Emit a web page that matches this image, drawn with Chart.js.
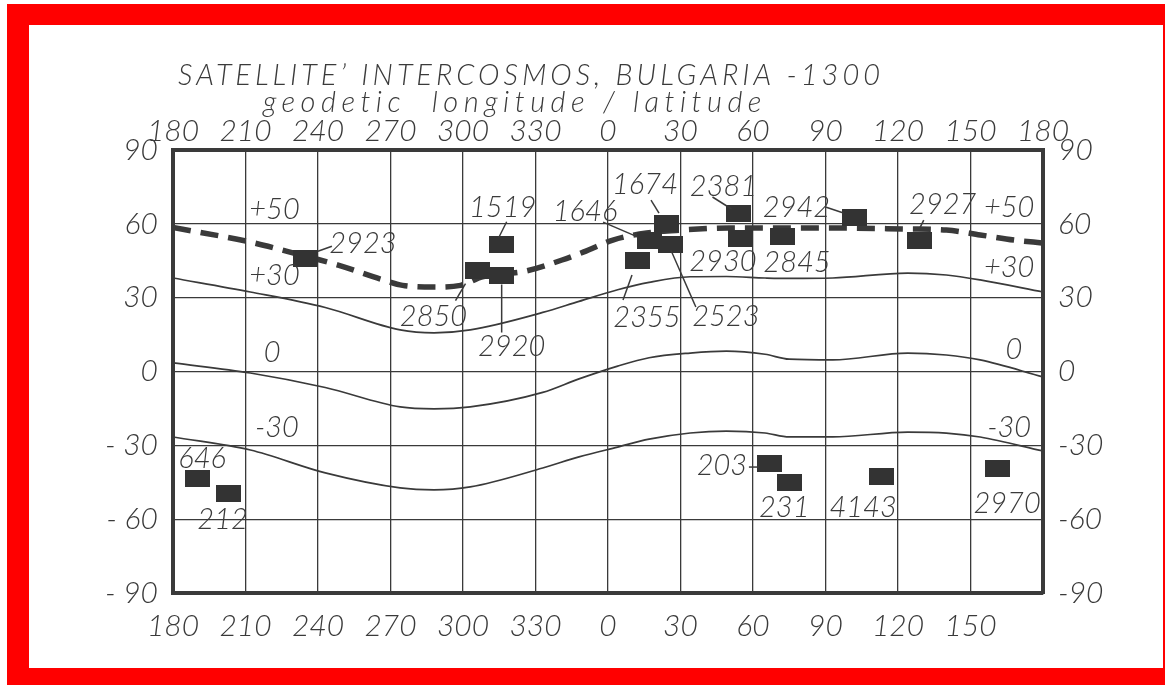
<!DOCTYPE html>
<html>
<head>
<meta charset="utf-8">
<script src="https://cdn.jsdelivr.net/npm/chart.js@4"></script>
<style>
  html, body { margin: 0; padding: 0; background: #fff; }
  #frame { position: absolute; left: 7px; top: 4px; width: 1158px; height: 681px; background: #ff0000; }
  #sheet { position: absolute; left: 22px; top: 21px; width: 1134px; height: 643px; background: #fff; }
  canvas { display: block; }
</style>
</head>
<body>
<div id="frame"><div id="sheet"><canvas id="mapChart" width="1134" height="643"></canvas></div></div>
<script>
// longitude is counted on past 360 so the map is not cut at 0:
// the axis runs 180 -> 540 and the labels show the value mod 360
const stationNames = ['2923', '2850', '1519', '2920', '1674', '1646', '2523', '2355', '2381', '2930',
                      '2845', '2942', '2927', '646', '212', '203', '231', '4143', '2970'];
const stationLon = [235, 306, 316, 316, 384, 377, 386, 372, 414, 415,
                    432, 462, 489, 190, 203, 427, 435, 473, 521];
const stationLat = [46, 41, 51.5, 39, 60.3, 53.4, 51.4, 45.3, 64.4, 54.2,
                    55, 62.4, 53.4, -43.3, -49.4, -37.2, -45.3, -42.5, -39.6];

// dashed +50 line
const lon50 = [180, 212, 228, 248, 267, 275, 288, 299, 308, 326, 341, 350,
               362, 376, 391, 410, 431, 453, 484, 500, 514, 528, 540];
const lat50 = [58.5, 52.6, 48.6, 43.3, 37.2, 35, 34.3, 35, 38.5, 40.8, 45.3, 48.6,
               53.4, 56.3, 57.5, 58.3, 58.3, 58.3, 57.9, 57.5, 55.5, 53.4, 52.2];

// solid +30, 0, -30 lines
const lonGrid = [180, 212, 243, 274, 288, 303, 333, 348, 364, 377, 394, 409, 425, 435, 453, 484, 500, 514, 540];
const lat30 = [38, 32.3, 26, 16.9, 15.7, 16.9, 24, 28.5, 33.2, 36.2, 38.5, 38.6, 38, 37.8, 38, 40, 39.2, 37.2, 32.3];
const lat0 = [3.5, -0.6, -6.5, -14.4, -15.2, -14.4, -8.5, -3, 2.2, 5.6, 7.5, 8.3, 7, 5, 4.7, 7.5, 6.7, 4.7, -2.2];
const latM30 = [-26.6, -31.9, -41.2, -47.3, -48.1, -46.9, -39.2, -34.7, -30.7, -27.5, -25, -24.2, -25, -26.6, -26.6, -24.6, -25, -26.6, -32.3];

const lineTags = ['+50', '+30', '0', '-30', '+50', '+30', '0', '-30'];
const lineTagLon = [222, 222, 221, 223, 526, 526, 528, 526];
const lineTagLat = [65.6, 38.8, 7.5, -23, 66.4, 42, 8.7, -23];

// text offset from the block, then an optional leader line (px)
const labelLayout = [
    [57, -15, 12, -7, 26, -12],
    [-44, 46, -12, 13, -22, 30],
    [1, -37, 5, -23, -3, -7],
    [10, 71, 0, 9, 0, 57],
    [-21, -38, -15, -23, -7, -10],
    [-64, -28, -46, -18, -11, -3],
    [55, 72, 0, 5, 25, 62],
    [10, 58, -5, 15, -14, 40],
    [-15, -26, -26, -16, -7, -4],
    [-18, 24],
    [15, 27],
    [-58, -10, -29, -11, -11, -5],
    [23, -35, 4, -20, -1, -10],
    [5, -19],
    [-6, 27],
    [-48, 3, -21, 4, -11, 4],
    [-5, 25],
    [-18, 32],
    [10, 35]
];

const ink = '#3a3a3a';
const handFont = 'Lato, "DejaVu Sans", sans-serif';
const tickFont = { family: handFont, size: 30, style: 'italic', weight: '300' };

function pairs(xs, ys) {
    return xs.map((x, i) => ({ x: x, y: ys[i] }));
}

// filled block used for every station
const block = document.createElement('canvas');
block.width = 25;
block.height = 17;
const bctx = block.getContext('2d');
bctx.fillStyle = '#333';
bctx.fillRect(0, 0, 25, 17);

const sheetTitle = {
    id: 'sheetTitle',
    beforeDraw(chart) {
        const ctx = chart.ctx;
        ctx.save();
        ctx.fillStyle = ink;
        ctx.textAlign = 'center';
        ctx.textBaseline = 'middle';
        ctx.font = 'italic 300 29px ' + handFont;
        ctx.letterSpacing = '4px';
        ctx.fillText('SATELLITE\u2019 INTERCOSMOS, BULGARIA -1300', 502, 51);
        ctx.letterSpacing = '5.5px';
        ctx.fillText('geodetic  longitude / latitude', 486, 78);
        ctx.restore();
    }
};

const stationLabels = {
    id: 'stationLabels',
    afterDatasetsDraw(chart) {
        const ctx = chart.ctx;
        const meta = chart.getDatasetMeta(0);
        ctx.save();
        ctx.font = 'italic 300 29px ' + handFont;
        ctx.fillStyle = ink;
        ctx.strokeStyle = ink;
        ctx.lineWidth = 1.5;
        ctx.textAlign = 'center';
        ctx.textBaseline = 'middle';
        meta.data.forEach((pt, i) => {
            const l = labelLayout[i];
            ctx.fillText(stationNames[i], pt.x + l[0], pt.y + l[1]);
            if (l.length > 2) {
                ctx.beginPath();
                ctx.moveTo(pt.x + l[2], pt.y + l[3]);
                ctx.lineTo(pt.x + l[4], pt.y + l[5]);
                ctx.stroke();
            }
        });
        const xs = chart.scales.x, ys = chart.scales.y;
        lineTags.forEach((t, i) => {
            ctx.fillText(t, xs.getPixelForValue(lineTagLon[i]), ys.getPixelForValue(lineTagLat[i]));
        });
        ctx.restore();
    }
};

function contour(label, lats, width, dash) {
    return {
        label: label,
        data: pairs(label === '+50' ? lon50 : lonGrid, lats),
        showLine: true,
        borderColor: ink,
        borderWidth: width,
        borderDash: dash,
        pointRadius: 0,
        cubicInterpolationMode: 'monotone',
        order: 1
    };
}

new Chart(document.getElementById('mapChart'), {
    type: 'scatter',
    data: {
        datasets: [
            {
                label: 'stations',
                data: pairs(stationLon, stationLat),
                pointStyle: block,
                pointRadius: 10,
                order: 0
            },
            contour('+50', lat50, 5.5, [18, 10]),
            contour('+30', lat30, 1.7, []),
            contour('0', lat0, 1.7, []),
            contour('-30', latM30, 1.7, [])
        ]
    },
    options: {
        responsive: false,
        animation: false,
        devicePixelRatio: 1,
        layout: { padding: 0 },
        plugins: {
            legend: { display: false },
            tooltip: { enabled: false },
            title: { display: false }
        },
        scales: {
            x: {
                type: 'linear', position: 'bottom', min: 180, max: 540,
                ticks: {
                    stepSize: 30, padding: 15, color: ink, font: tickFont, maxRotation: 0, autoSkip: false,
                    callback: v => v === 540 ? '' : String(v % 360)
                },
                grid: { color: ink, lineWidth: 1.3, drawTicks: false, tickLength: 0 },
                border: { color: ink, width: 4 },
                afterFit: s => { s.height = 75; }
            },
            xTop: {
                type: 'linear', position: 'top', min: 180, max: 540,
                ticks: {
                    stepSize: 30, padding: 1, color: ink, font: tickFont, maxRotation: 0, autoSkip: false,
                    callback: v => String(v % 360)
                },
                grid: { display: false, drawTicks: false, tickLength: 0 },
                border: { color: ink, width: 4 },
                afterFit: s => { s.height = 125; }
            },
            y: {
                position: 'left', min: -90, max: 90,
                ticks: {
                    stepSize: 30, padding: 15, color: ink, font: tickFont,
                    callback: v => v < 0 ? '- ' + (-v) : String(v)
                },
                grid: { color: ink, lineWidth: 1.3, drawTicks: false, tickLength: 0 },
                border: { color: ink, width: 4 },
                afterFit: s => { s.width = 144; }
            },
            yRight: {
                position: 'right', min: -90, max: 90,
                ticks: { stepSize: 30, padding: 15, color: ink, font: tickFont },
                grid: { display: false, drawTicks: false, tickLength: 0 },
                border: { color: ink, width: 4 },
                afterFit: s => { s.width = 120; }
            }
        }
    },
    plugins: [sheetTitle, stationLabels]
});
</script>
</body>
</html>
